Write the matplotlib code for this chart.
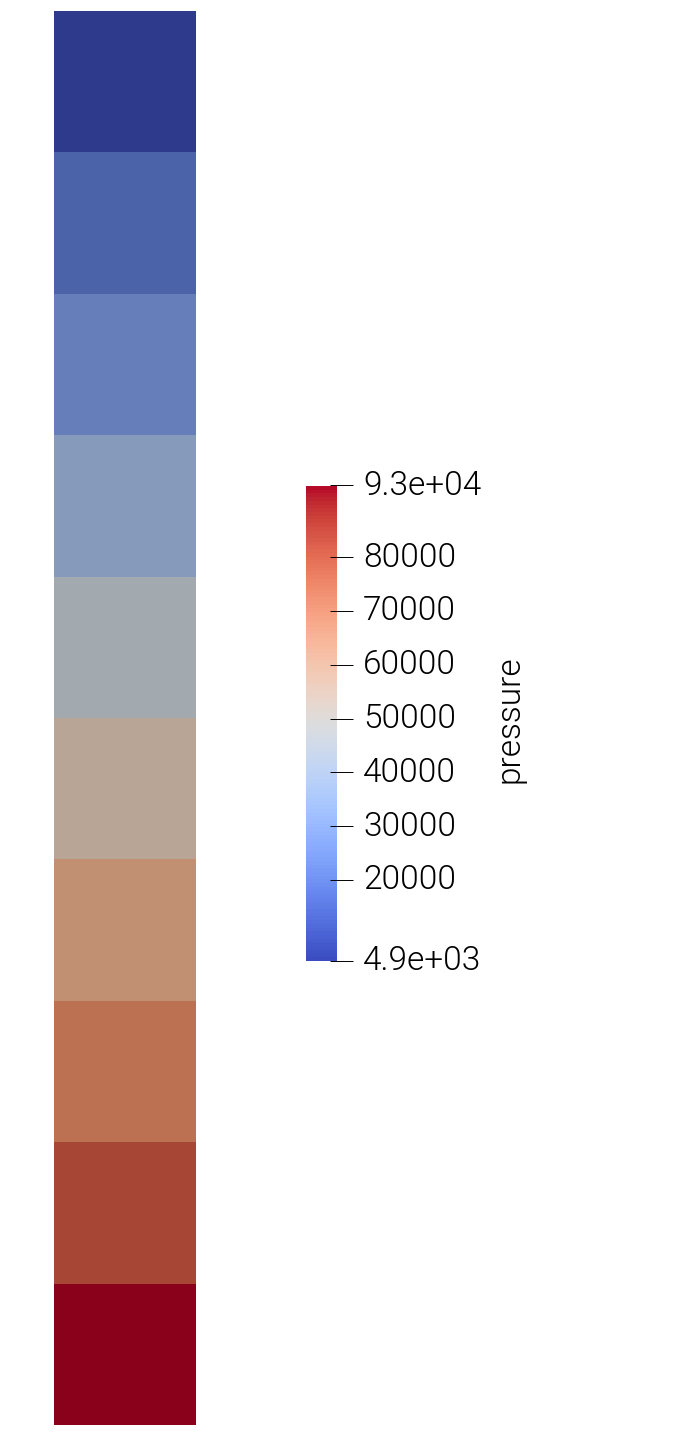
#!/usr/bin/env python3

"""
Pressure column split in ten cells, with a colour bar beside it.
"""

#imports
import numpy as np
import matplotlib.pyplot as plt
from matplotlib.colors import ListedColormap, BoundaryNorm

#constants
WIDTH, HEIGHT = 680, 1434
DPI = 100
FONT = 'Roboto'
WEIGHT = 300

#data (top cell first)
cell_pressure = [9300, 18000, 27000, 35800, 44700, 53600, 62400, 71300, 80100, 89000]
cell_colors = ['#2E3A8C', '#4A63A9', '#667FBB', '#869BBC', '#A2A9AF',
               '#B8A595', '#C19073', '#BD7153', '#A84636', '#8A011B']
cell_edges = [4900, 13700, 22500, 31400, 40200, 49100, 58000, 66800, 75700, 84500, 93200]
bar_range = [4950, 93200]
tick_values = [93400, 80000, 70000, 60000, 50000, 40000, 30000, 20000, 4950]
tick_labels = ['9.3e+04', '80000', '70000', '60000', '50000',
               '40000', '30000', '20000', '4.9e+03']
label_lift = [2, 3, 3, 3, 3, 3, 3, 3, 3]
bar_title = 'pressure'


#functions
def pixel_axes(fig, left, top, right, bottom):
    """
    Adds axes placed by pixel box, measured from the top left of the image.
    """
    return fig.add_axes([left / WIDTH, 1 - bottom / HEIGHT,
                         (right - left) / WIDTH, (bottom - top) / HEIGHT])


def draw_column(fig):
    ax = pixel_axes(fig, 54, 11, 196, 1425)
    cmap = ListedColormap(cell_colors)
    norm = BoundaryNorm(cell_edges, cmap.N)
    rows = np.arange(len(cell_pressure) + 1)
    ax.pcolormesh([0, 1], rows, np.array(cell_pressure).reshape(-1, 1),
                  cmap=cmap, norm=norm)
    ax.set_ylim(len(cell_pressure), 0)
    ax.axis('off')


def draw_colorbar(fig):
    ax = pixel_axes(fig, 306, 486, 337, 961)
    levels = np.linspace(bar_range[0], bar_range[1], 129)
    ax.pcolormesh([0, 1], levels, levels[:-1].reshape(-1, 1), cmap='coolwarm',
                  vmin=bar_range[0], vmax=bar_range[1])
    ax.set_ylim(bar_range)
    ax.axis('off')

    #ticks start inside the bar, so they get their own clear axes on top
    tick_ax = pixel_axes(fig, 330, 486, 353, 961)
    tick_ax.set_ylim(bar_range)
    tick_ax.set_xlim(0, 1)
    tick_ax.hlines(tick_values, 0, 1, color='black', linewidth=0.7, clip_on=False)
    tick_ax.axis('off')

    for value, label, lift in zip(tick_values, tick_labels, label_lift):
        tick_ax.annotate(label, xy=(1, value), xycoords=('axes fraction', 'data'),
                         xytext=(10 * 72 / DPI, lift * 72 / DPI),
                         textcoords='offset points', ha='left', va='center_baseline',
                         fontsize=24, family=FONT, weight=WEIGHT, color='black')

    fig.text(509 / WIDTH, 1 - 719 / HEIGHT, bar_title, rotation=90, ha='center',
             va='center', fontsize=24, family=FONT, weight=WEIGHT, color='black')


def main():
    fig = plt.figure(figsize=(WIDTH / DPI, HEIGHT / DPI), dpi=DPI, facecolor='white')
    draw_column(fig)
    draw_colorbar(fig)
    fig.savefig('out.png', dpi=DPI, facecolor='white')


if __name__ == '__main__':
    main()
